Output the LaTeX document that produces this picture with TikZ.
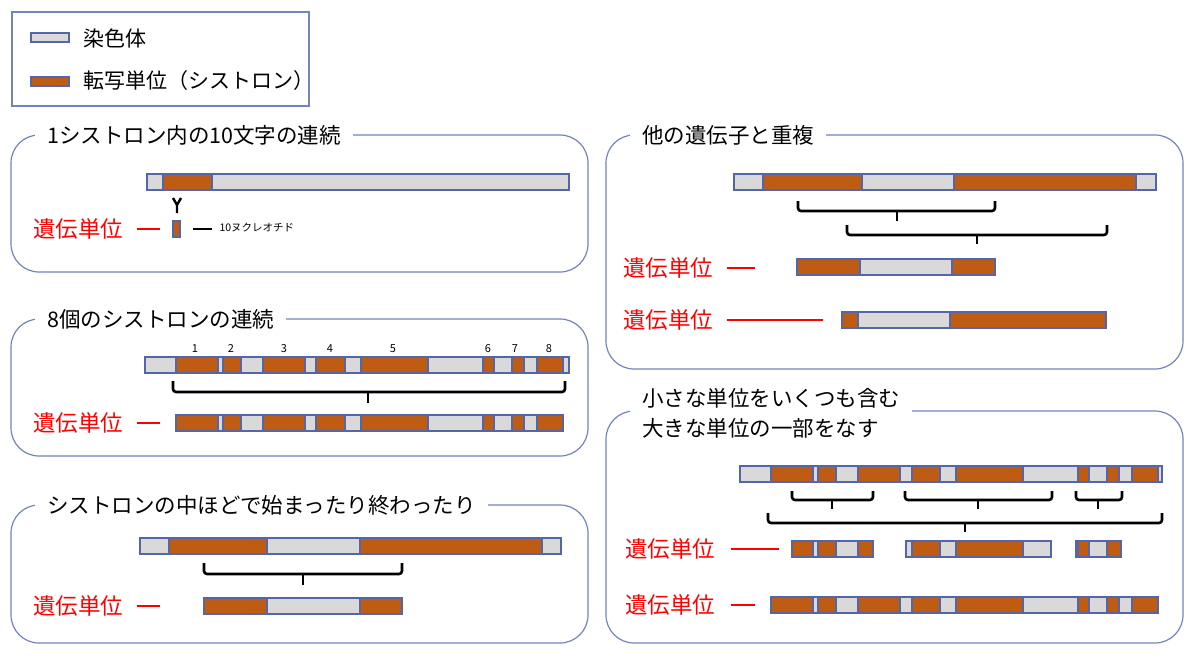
\documentclass[tikz,border=0pt]{standalone}
\usepackage{fontspec}
\setmainfont{Noto Sans CJK JP}
\usetikzlibrary{positioning}
\definecolor{cisorange}{HTML}{BD5C12}
\definecolor{chromgray}{HTML}{D9D9D9}
\definecolor{baredge}{HTML}{5566A8}
\definecolor{boxedge}{HTML}{7383BC}
\newcommand{\chrbar}[4]{%
  \draw[chrom] (#2,#1-8) rectangle (#3,#1+8);
  \foreach \a/\b in {#4} \draw[cis] (\a,#1-8) rectangle (\b,#1+8);
}
\newcommand{\gbrace}[6]{%
  \draw[brace] (#1,#4) |- (#2,#5) -- (#2,#4);
  \draw[brace] (#3,#5) -- (#3,#6);
}

\begin{document}
\begin{tikzpicture}[x=1pt, y=-1pt,
    chrom/.style={fill=chromgray, draw=baredge, line width=1.2pt},
    cis/.style={fill=cisorange, draw=baredge, line width=1.2pt},
    brace/.style={line width=2.6pt, rounded corners=3pt},
    panel/.style={draw=boxedge, line width=1.2pt, rounded corners=28pt},
    title/.style={fill=white, anchor=west, inner xsep=12pt, font=\fontsize{21.5}{28}\selectfont},
    unit/.style={text=red, anchor=east, font=\fontsize{22.5}{26}\selectfont},
    reddash/.style={red, line width=2.5pt}]
    \useasboundingbox (0,0) rectangle (1200,658);

    % legend
    \draw[boxedge, line width=1.2pt] (12,12) rectangle (309,106);
    \draw[chrom] (31,33) rectangle (69,42);
    \draw[cis] (31,77) rectangle (69,86);
    \node[anchor=west, font=\fontsize{21}{24}\selectfont] (lchrom) at (80,38) {染色体};
    \node[anchor=west, font=\fontsize{21}{24}\selectfont] (lcis) at (80,81) {転写単位（シストロン）};

    % panel 1
    \draw[panel] (11,135) rectangle (588,272);
    \node[title] (t1) at (35,135) {1シストロン内の10文字の連続};
    \chrbar{182}{147}{569}{163/212}
    \draw[line width=2.4pt] (173,198) -- (177,205) -- (181,198) (177,205) -- (177,213);
    \draw[cis] (173,221) rectangle (180,237);
    \node[unit] (u1) at (127,229) {遺伝単位};
    \draw[reddash] (137,229) -- (160,229);
    \draw[line width=2.5pt] (193,229) -- (212,229);
    \node[anchor=west, font=\fontsize{10.5}{12}\selectfont] (nt) at (216,228) {10ヌクレオチド};

    % panel 2
    \draw[panel] (11,319) rectangle (588,456);
    \node[title] (t2) at (35,319) {8個のシストロンの連続};
    \chrbar{365}{145}{569}{176/218,223/241,263/305,316/345,361/428,483/494,512/524,537/563}
    \foreach \x/\n in {195/1,231/2,284/3,330/4,393/5,488/6,515/7,549/8}
        \node[font=\fontsize{11}{12}\selectfont] at (\x,349) {\n};
    \gbrace{173}{565}{368}{381}{392}{403}
    \chrbar{423}{176}{563}{176/218,223/241,263/305,316/345,361/428,483/494,512/524,537/563}
    \node[unit] (u2) at (127,423) {遺伝単位};
    \draw[reddash] (137,423) -- (160,423);

    % panel 3
    \draw[panel] (11,505) rectangle (588,643);
    \node[title] (t3) at (35,505) {シストロンの中ほどで始まったり終わったり};
    \chrbar{546}{140}{561}{169/267,360/542}
    \gbrace{204}{402}{303}{563}{574}{585}
    \chrbar{606}{204}{402}{204/267,360/402}
    \node[unit] (u3) at (127,606) {遺伝単位};
    \draw[reddash] (137,606) -- (160,606);

    % panel 4
    \draw[panel] (606,135) rectangle (1183,369);
    \node[title] (t4) at (630,135) {他の遺伝子と重複};
    \chrbar{182}{734}{1156}{763/862,954/1136}
    \gbrace{798}{995}{897}{201}{211}{221}
    \gbrace{847}{1107}{977}{225}{235}{244}
    \chrbar{267}{797}{995}{797/860,952/995}
    \node[unit] (u4) at (717,268) {遺伝単位};
    \draw[reddash] (727,268) -- (755,268);
    \chrbar{320}{842}{1106}{842/858,950/1106}
    \node[unit] (u5) at (717,320) {遺伝単位};
    \draw[reddash] (727,320) -- (823,320);

    % panel 5
    \draw[panel] (606,411) rectangle (1183,643);
    \node[title, align=left, font=\fontsize{21.5}{30}\selectfont] (t5) at (630,413) {小さな単位をいくつも含む\\大きな単位の一部をなす};
    \chrbar{474}{740}{1162}{771/813,818/836,858/900,912/940,956/1023,1078/1089,1107/1119,1132/1158}
    \gbrace{792}{873}{832}{491}{500}{509}
    \gbrace{905}{1052}{978}{491}{500}{509}
    \gbrace{1076}{1122}{1098}{491}{500}{509}
    \gbrace{768}{1162}{965}{513}{523}{532}
    \chrbar{549}{792}{873}{792/813,818/836,858/873}
    \chrbar{549}{906}{1051}{912/940,956/1023}
    \chrbar{549}{1076}{1121}{1078/1089,1107/1121}
    \node[unit] (u6) at (719,549) {遺伝単位};
    \draw[reddash] (731,549) -- (779,549);
    \chrbar{605}{771}{1158}{771/813,818/836,858/900,912/940,956/1023,1078/1089,1107/1119,1132/1158}
    \node[unit] (u7) at (719,605) {遺伝単位};
    \draw[reddash] (731,605) -- (755,605);
\end{tikzpicture}
\end{document}
